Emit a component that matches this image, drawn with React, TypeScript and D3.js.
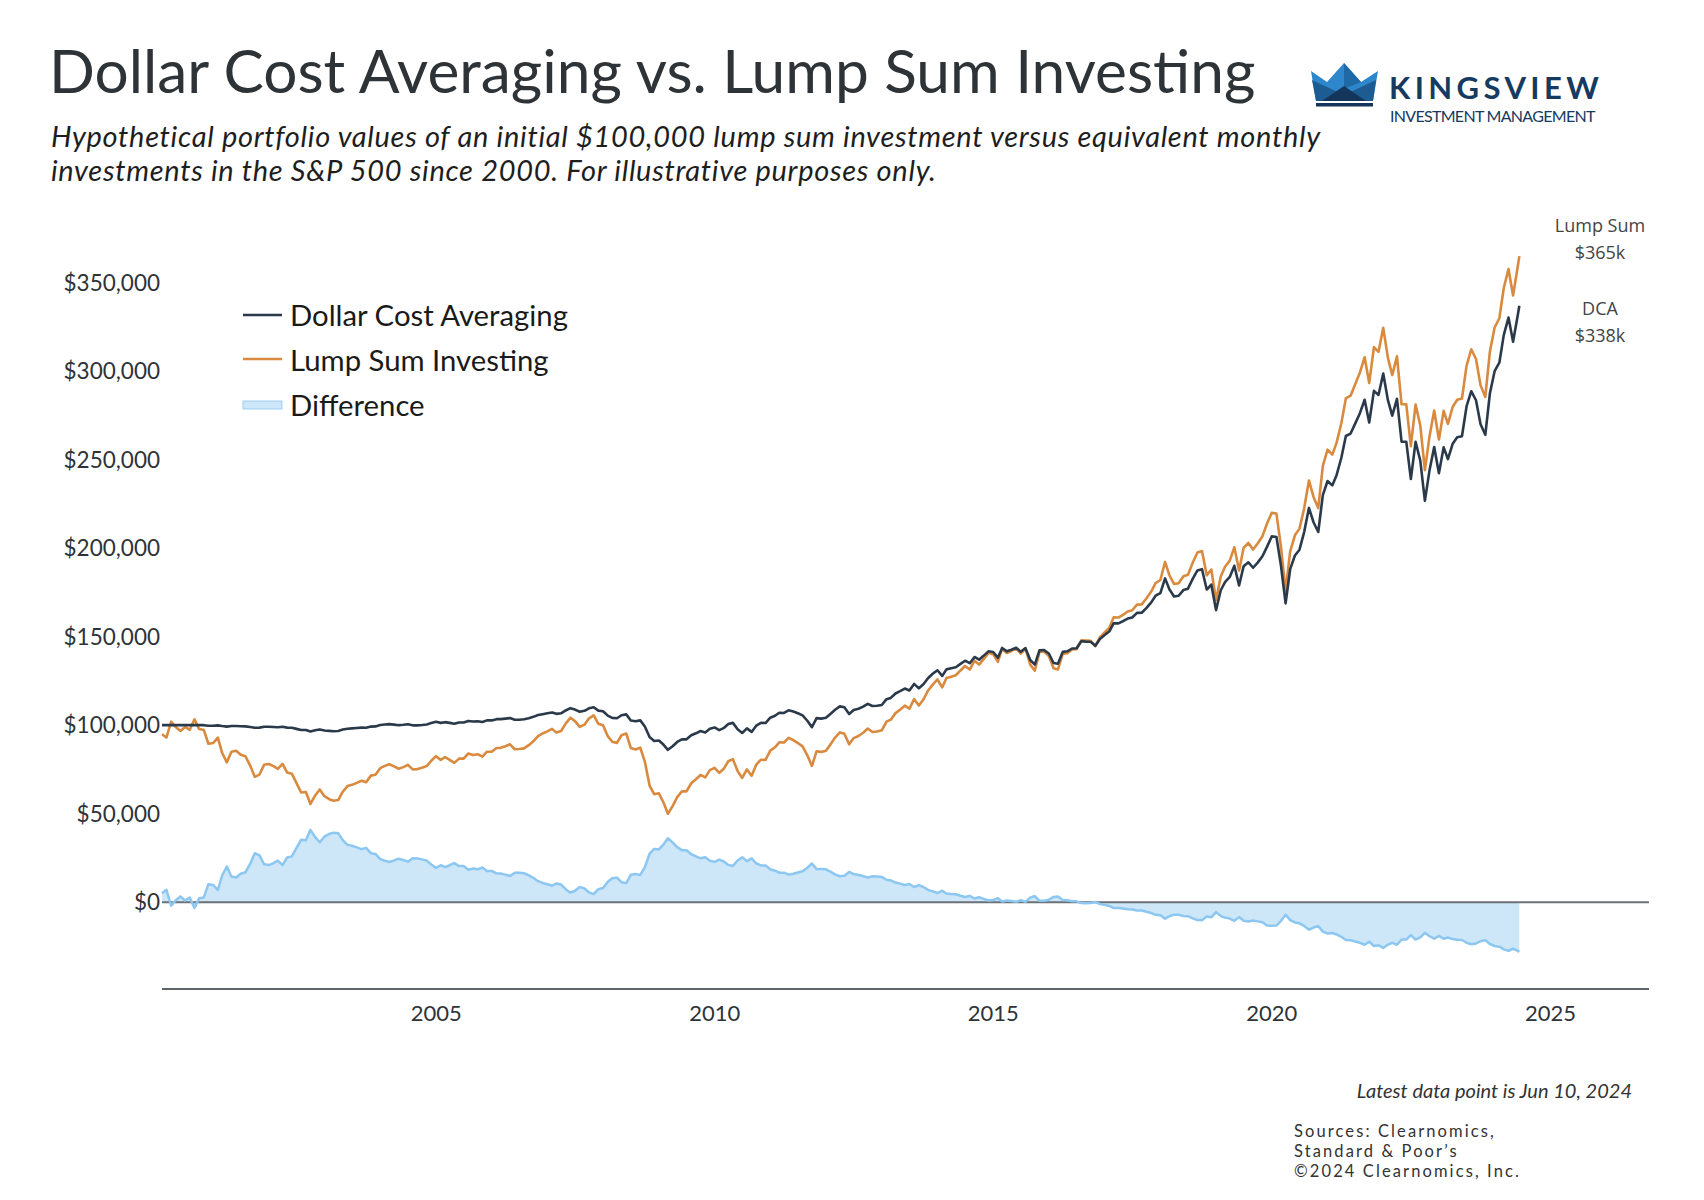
import React from "react";
import * as d3 from "d3";

// Portfolio values in thousands of dollars, monthly (month-end), Jan 2000 .. May 2024, then Jun 10 2024
const lumpSum = [
  94.9, 93.0, 102.0, 98.9, 96.7, 99.0, 97.4, 103.3, 97.8, 97.3, 89.5, 89.9,
  93.0, 84.4, 79.0, 85.0, 85.5, 83.3, 82.4, 77.2, 70.8, 72.1, 77.6, 78.1,
  76.9, 75.3, 78.1, 73.3, 72.6, 67.4, 62.0, 62.3, 55.5, 60.3, 63.7, 59.9,
  58.2, 57.3, 57.7, 62.4, 65.6, 66.3, 67.4, 68.6, 67.8, 71.5, 72.0, 75.7,
  77.0, 77.9, 76.7, 75.4, 76.3, 77.6, 75.0, 75.2, 75.9, 76.9, 79.9, 82.5,
  80.4, 81.9, 80.4, 78.7, 81.1, 81.1, 84.0, 83.1, 83.6, 82.2, 85.0, 85.0,
  87.1, 87.2, 88.1, 89.2, 86.4, 86.5, 86.9, 88.7, 90.9, 93.8, 95.3, 96.5,
  97.9, 95.8, 96.7, 100.9, 104.2, 102.3, 99.0, 100.3, 103.9, 105.5, 100.8, 99.9,
  93.8, 90.6, 90.0, 94.3, 95.3, 87.1, 86.3, 87.3, 79.4, 65.9, 61.0, 61.5,
  56.2, 50.0, 54.3, 59.4, 62.6, 62.6, 67.2, 69.5, 71.9, 70.5, 74.6, 75.9,
  73.1, 75.2, 79.6, 80.8, 74.1, 70.2, 75.0, 71.4, 77.7, 80.5, 80.4, 85.6,
  87.5, 90.3, 90.2, 92.8, 91.6, 89.9, 88.0, 83.0, 77.0, 85.3, 84.9, 85.6,
  89.3, 93.0, 95.9, 95.1, 89.2, 92.7, 93.9, 95.7, 98.1, 96.1, 96.4, 97.1,
  102.0, 103.1, 106.8, 108.7, 111.0, 109.3, 114.7, 111.1, 114.5, 119.6, 122.9, 125.8,
  121.3, 126.6, 127.4, 128.2, 130.9, 133.4, 131.4, 136.4, 134.2, 137.4, 140.7, 140.1,
  135.8, 143.2, 140.7, 141.9, 143.4, 140.4, 143.2, 134.2, 130.7, 141.5, 141.6, 139.1,
  132.1, 131.5, 140.2, 140.6, 142.7, 142.9, 147.9, 147.8, 147.6, 144.7, 149.7, 152.4,
  155.1, 160.9, 160.8, 162.3, 164.2, 164.9, 168.1, 168.2, 171.5, 175.3, 180.2, 182.0,
  192.2, 184.7, 179.7, 180.2, 184.1, 185.0, 191.7, 197.5, 198.3, 184.6, 187.9, 170.6,
  184.0, 189.5, 192.9, 200.5, 187.3, 200.2, 202.9, 199.2, 202.6, 206.7, 213.8, 219.9,
  219.5, 201.1, 175.9, 198.2, 207.2, 211.0, 222.6, 238.2, 228.9, 222.6, 246.5, 255.6,
  252.8, 259.4, 270.4, 284.6, 286.1, 292.5, 299.1, 307.8, 293.2, 313.5, 310.8, 324.4,
  307.3, 297.7, 308.3, 281.2, 281.2, 257.6, 281.1, 269.2, 244.0, 263.5, 277.7, 261.3,
  277.5, 270.2, 279.7, 283.8, 284.5, 302.9, 312.3, 306.8, 291.9, 285.4, 310.9, 324.6,
  329.8, 346.9, 357.6, 342.7, 359.2, 364.9,
];

const dca = [
  100.0, 100.0, 100.1, 100.0, 100.0, 100.0, 100.0, 100.1, 100.0, 100.0, 99.7, 99.7,
  99.9, 99.5, 99.2, 99.5, 99.5, 99.4, 99.3, 99.0, 98.5, 98.6, 99.1, 99.1,
  99.0, 98.8, 99.1, 98.6, 98.5, 97.9, 97.3, 97.3, 96.4, 97.1, 97.6, 97.0,
  96.8, 96.6, 96.7, 97.5, 98.0, 98.2, 98.4, 98.6, 98.5, 99.2, 99.3, 100.1,
  100.4, 100.6, 100.3, 100.0, 100.2, 100.5, 99.9, 99.9, 100.1, 100.4, 101.2, 101.9,
  101.3, 101.7, 101.3, 100.8, 101.5, 101.5, 102.4, 102.1, 102.2, 101.8, 102.7, 102.7,
  103.4, 103.4, 103.7, 104.0, 103.1, 103.1, 103.3, 103.9, 104.7, 105.7, 106.2, 106.7,
  107.2, 106.4, 106.7, 108.3, 109.6, 108.8, 107.6, 108.1, 109.5, 110.1, 108.2, 107.9,
  105.4, 104.1, 103.9, 105.6, 106.1, 102.6, 102.2, 102.7, 99.2, 93.3, 91.1, 91.3,
  88.9, 86.1, 88.1, 90.5, 92.0, 92.0, 94.3, 95.4, 96.7, 95.9, 98.0, 98.7,
  97.2, 98.3, 100.7, 101.3, 97.7, 95.6, 98.2, 96.2, 99.7, 101.3, 101.2, 104.2,
  105.3, 107.0, 106.9, 108.4, 107.7, 106.7, 105.5, 102.5, 98.9, 104.0, 103.7, 104.2,
  106.5, 108.7, 110.6, 110.1, 106.3, 108.6, 109.3, 110.5, 112.0, 110.8, 111.0, 111.4,
  114.7, 115.4, 117.9, 119.2, 120.7, 119.6, 123.3, 120.8, 123.1, 126.6, 129.0, 131.0,
  127.8, 131.5, 132.1, 132.7, 134.6, 136.4, 135.0, 138.5, 137.0, 139.3, 141.7, 141.3,
  138.1, 143.6, 141.7, 142.6, 143.7, 141.5, 143.5, 136.8, 134.2, 142.3, 142.4, 140.5,
  135.1, 134.7, 141.4, 141.7, 143.3, 143.4, 147.4, 147.2, 147.1, 144.8, 148.7, 150.9,
  153.0, 157.6, 157.5, 158.7, 160.2, 160.8, 163.4, 163.5, 166.1, 169.2, 173.1, 174.6,
  182.9, 176.8, 172.7, 173.1, 176.3, 177.1, 182.6, 187.4, 188.1, 176.6, 179.4, 165.0,
  176.2, 180.8, 183.7, 190.0, 178.9, 189.8, 192.0, 188.9, 191.8, 195.4, 200.7, 206.6,
  206.3, 190.5, 168.8, 188.1, 195.8, 199.1, 209.2, 222.7, 214.6, 209.1, 229.9, 237.9,
  235.4, 241.2, 250.9, 263.3, 264.7, 270.3, 276.2, 283.8, 270.9, 288.8, 286.5, 298.6,
  283.4, 274.8, 284.3, 260.1, 260.1, 239.0, 260.0, 249.3, 226.7, 244.3, 257.1, 242.3,
  256.9, 250.3, 258.9, 262.6, 263.2, 280.0, 288.6, 283.5, 269.9, 264.0, 287.3, 299.9,
  304.7, 320.3, 330.2, 316.5, 331.7, 336.9,
];

const lastDate = new Date(2024, 5, 10);
const dates: Date[] = [
  ...d3.range(lumpSum.length - 1).map((i) => new Date(2000, i + 1, 0)),
  lastDate,
];

const yTickValues = [0, 50, 100, 150, 200, 250, 300, 350];
const xTickYears = [2005, 2010, 2015, 2020, 2025];
const seriesNames = ["Dollar Cost Averaging", "Lump Sum Investing", "Difference"];
const lumpLabel = ["Lump Sum", "$365k"];
const dcaLabel = ["DCA", "$338k"];

const titleText = "Dollar Cost Averaging vs. Lump Sum Investing";
const subtitleLines = [
  "Hypothetical portfolio values of an initial $100,000 lump sum investment versus equivalent monthly",
  "investments in the S&P 500 since 2000. For illustrative purposes only.",
];
const noteText = "Latest data point is Jun 10, 2024";
const sourceLines = ["Sources: Clearnomics,", "Standard & Poor\u2019s", "\u00a92024 Clearnomics, Inc."];

const C = {
  dca: "#2b3a4b",
  lump: "#d98a3e",
  diffFill: "#cde6f8",
  diffStroke: "#8cc7f1",
  text: "#2e3338",
  axis: "#5f6468",
};

const FONT = "Lato, 'Source Sans Pro', sans-serif";

export default function App() {
  const x = d3
    .scaleTime()
    .domain([dates[0], new Date(2026, 9, 8)])
    .range([162, 1649]);
  const y = d3.scaleLinear().domain([-49, 350]).range([989, 282.5]);
  const diff = dca.map((v, i) => v - lumpSum[i]);

  const line = d3
    .line<number>()
    .x((_, i) => x(dates[i]))
    .y((d) => y(d));
  const area = d3
    .area<number>()
    .x((_, i) => x(dates[i]))
    .y0(y(0))
    .y1((d) => y(d));

  const [x0, x1] = x.range();
  const yBottom = y(y.domain()[0]);
  const fmt = d3.format(",");
  const n = lumpSum.length - 1;
  const endX = 1600;

  return (
    <svg
      width={1704}
      height={1200}
      style={{ position: "absolute", left: 0, top: 0, background: "#fff" }}
      fontFamily={FONT}
    >
      <rect width={1704} height={1200} fill="#fff" />
      {/* Title & subtitle */}
      <text x={49} y={93} fontSize={60.4} fill={C.text}>
        {titleText}
      </text>
      {subtitleLines.map((t, i) => (
        <text
          key={i}
          x={51}
          y={147 + i * 34}
          fontSize={29}
          letterSpacing={0.7}
          fontStyle="italic"
          fill="#1e1e1e"
        >
          {t}
        </text>
      ))}

      {/* Logo */}
      <g>
        <polygon points="1311,71 1327,82 1344,63 1361,82 1378,71 1373,101 1316,101" fill="#2f87cb" />
        <polygon points="1312,80 1344,95 1376,80 1373,101 1316,101" fill="#1d5c92" />
        <polygon points="1344,63 1361,82 1344,89" fill="#1f6aa6" />
        <polygon points="1322,101 1344,86 1366,101" fill="#14365b" />
        <rect x={1316} y={103} width={57} height={3.5} fill="#14365b" />
        <text x={1389} y={99} fontSize={31} fontWeight={700} fill="#163a60" letterSpacing={4.4}>
          KINGSVIEW
        </text>
        <text x={1390} y={122} fontSize={16} fill="#163a60" letterSpacing={-0.7}>
          INVESTMENT MANAGEMENT
        </text>
      </g>

      {/* Difference area */}
      <path d={area(diff) || ""} fill={C.diffFill} />
      <line x1={x0} x2={x1} y1={y(0)} y2={y(0)} stroke="#6b7177" strokeWidth={2} />
      <path d={line(diff) || ""} fill="none" stroke={C.diffStroke} strokeWidth={2.5} strokeLinejoin="round" />

      {/* Series lines */}
      <path d={line(lumpSum) || ""} fill="none" stroke={C.lump} strokeWidth={2.6} strokeLinejoin="round" />
      <path d={line(dca) || ""} fill="none" stroke={C.dca} strokeWidth={2.6} strokeLinejoin="round" />

      {/* Bottom axis */}
      <line x1={x0} x2={x1} y1={yBottom} y2={yBottom} stroke={C.axis} strokeWidth={2} />
      {xTickYears.map((yr) => (
        <text key={yr} x={x(new Date(yr, 0, 1))} y={1021} fontSize={22} textAnchor="middle" fill={C.text}>
          {yr}
        </text>
      ))}

      {/* Y labels */}
      {yTickValues.map((v) => (
        <text key={v} x={160} y={y(v) + 8} fontSize={22.5} textAnchor="end" fill={C.text}>
          {"$" + fmt(v * 1000)}
        </text>
      ))}

      {/* Legend */}
      <g>
        <line x1={243} x2={282} y1={315} y2={315} stroke={C.dca} strokeWidth={2.6} />
        <line x1={243} x2={282} y1={359} y2={359} stroke={C.lump} strokeWidth={2.6} />
        <rect x={243} y={401} width={39} height={8} fill={C.diffFill} stroke={C.diffStroke} strokeWidth={0.8} />
        {seriesNames.map((s, i) => (
          <text key={s} x={290} y={326 + i * 45} fontSize={29.3} fill="#1a1a1a">
            {s}
          </text>
        ))}
      </g>

      {/* End labels */}
      <g fontFamily="'Open Sans', sans-serif" fontSize={18} fill="#444" textAnchor="middle">
        <text x={endX} y={y(lumpSum[n]) - 24}>{lumpLabel[0]}</text>
        <text x={endX} y={y(lumpSum[n]) + 3}>{lumpLabel[1]}</text>
        <text x={endX} y={y(dca[n]) + 9}>{dcaLabel[0]}</text>
        <text x={endX} y={y(dca[n]) + 36}>{dcaLabel[1]}</text>
      </g>

      {/* Footer */}
      <text x={1632} y={1098} fontSize={20} fontStyle="italic" textAnchor="end" fill="#333">
        {noteText}
      </text>
      {sourceLines.map((t, i) => (
        <text key={i} x={1294} y={1137 + i * 20} fontSize={16.5} letterSpacing={2.1} fill="#333">
          {t}
        </text>
      ))}
    </svg>
  );
}
